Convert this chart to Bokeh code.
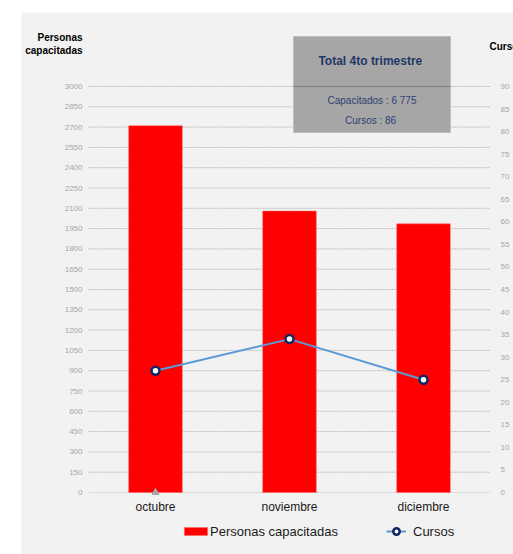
from bokeh.plotting import figure
from bokeh.models import Range1d, Label, Legend, LegendItem, Spacer, ColumnDataSource
from bokeh.layouts import column, row
from bokeh.embed import file_html
from bokeh.resources import INLINE

# ---- data ----
meses = ["octubre", "noviembre", "diciembre"]
personas = [2710, 2080, 1985]
cursos = [27, 34, 25]
left_ticks = list(range(0, 3001, 150))
right_ticks = list(range(0, 91, 5))

FONT = "Liberation Sans"
total_personas = sum(personas)
total_cursos = sum(cursos)
tot_txt = f"{total_personas:,}".replace(",", " ")

# ---- layout geometry (page pixels) ----
FIG_X, FIG_Y, FIG_W, FIG_H = 21, 12, 492, 542
PLOT_L, PLOT_R, Y0, Y3000 = 88, 490, 492, 86
ppu = (Y0 - Y3000) / 3000                   # pixels per person
ratio = 3000 / 90                           # persons per curso on the shared scale
cat_px = (PLOT_R - PLOT_L) / len(meses)


def dx(px):   # page x -> category-index coordinate
    return (px - PLOT_L) / cat_px


def dy(py):   # page y -> left-axis data value
    return (Y0 - py) / ppu


xs = [i + 0.5 for i in range(len(meses))]

p = figure(x_range=Range1d(dx(FIG_X), dx(FIG_X + FIG_W)),
           y_range=Range1d(dy(FIG_Y + FIG_H), dy(FIG_Y)),
           width=FIG_W, height=FIG_H, output_backend="svg", toolbar_location=None,
           x_axis_location=None, y_axis_location=None,
           min_border=0, min_border_left=0, min_border_right=0, min_border_top=0,
           min_border_bottom=0)
p.extra_y_ranges = {"cursos": Range1d(dy(FIG_Y + FIG_H) / ratio, dy(FIG_Y) / ratio)}
p.background_fill_color = "#F2F2F2"
p.border_fill_color = "#F2F2F2"
p.outline_line_color = None
p.xgrid.visible = False
p.ygrid.visible = False

# grid lines and base line
p.segment(x0=0, x1=len(meses), y0=left_ticks[1:], y1=left_ticks[1:], line_color="#BDBDBD",
          line_dash="2 1", line_width=1)
p.segment(x0=[0], x1=[len(meses)], y0=[0], y1=[0], line_color="#D9D9D9", line_width=1)

# tick labels (left: persons, right: cursos)
p.text(x=dx(82), y=left_ticks, text=[str(t) for t in left_ticks], text_align="right",
       text_baseline="middle", text_font={"value": FONT}, text_font_size="8px",
       text_color="#A6A6A6")
p.text(x=dx(500), y=right_ticks, text=[str(t) for t in right_ticks], y_range_name="cursos",
       text_align="left", text_baseline="middle", text_font={"value": FONT},
       text_font_size="8px", text_color="#A6A6A6")
p.text(x=xs, y=dy(506), text=meses, text_align="center", text_baseline="middle",
       text_font={"value": FONT}, text_font_size="12px", text_color="#1a1a1a")

bars = p.vbar(x=xs, top=personas, bottom=0, width=0.4, fill_color="#FF0000",
              line_color="#FF6666", line_width=0.5)
p.scatter(x=[xs[0]], y=[0], marker="triangle", size=7, fill_color="#A6A6A6",
          line_color="#A6A6A6")

ln = p.line(x=xs, y=cursos, y_range_name="cursos", line_color="#5B9BD5", line_width=2)
pts = p.scatter(x=xs, y=cursos, y_range_name="cursos", size=8, fill_color="white",
                line_color="#0F2660", line_width=2.5)

# summary box
bx_l, bx_r, bx_t, bx_b = dx(293), dx(450), dy(36), dy(132)
p.quad(left=[bx_l], right=[bx_r], top=[bx_t], bottom=[bx_b], fill_color="#A6A6A6",
       line_color="#BFBFBF", line_width=1)
p.segment(x0=[bx_l], x1=[bx_r], y0=[3000], y1=[3000], line_color="#555555", line_dash="1 1",
          line_width=1)
bx_c = (bx_l + bx_r) / 2
p.add_layout(Label(x=bx_c, y=dy(60), text="Total  4to trimestre", text_align="center",
                   text_baseline="middle", text_font=FONT, text_font_style="bold",
                   text_font_size="12px", text_color="#1F3864"))
p.add_layout(Label(x=bx_c, y=dy(100), text=f"Capacitados : {tot_txt}", text_align="center",
                   text_baseline="middle", text_font=FONT, text_font_size="10px",
                   text_color="#2F3F73"))
p.add_layout(Label(x=bx_c, y=dy(120), text=f"Cursos :  {total_cursos}", text_align="center",
                   text_baseline="middle", text_font=FONT, text_font_size="10px",
                   text_color="#2F3F73"))

# axis titles
for txt, py in (("Personas", 37), ("capacitadas", 50)):
    p.add_layout(Label(x=dx(82), y=dy(py), text=txt, text_align="right",
                       text_baseline="middle", text_font=FONT, text_font_style="bold",
                       text_font_size="10px", text_color="#000000"))
p.add_layout(Label(x=dx(489), y=dy(46), text="Cursos", text_align="left",
                   text_baseline="middle", text_font=FONT, text_font_style="bold",
                   text_font_size="10px", text_color="#000000"))


# legends (location in pixels from the frame's bottom-left corner)
def mk_legend(item, loc, gw, gh, standoff):
    return Legend(items=[item], location=loc, orientation="horizontal", glyph_width=gw,
                  glyph_height=gh, label_height=16, label_text_font=FONT,
                  label_text_font_size="13px", label_text_color="#1a1a1a", padding=0,
                  margin=0, spacing=0, border_line_color=None, background_fill_alpha=0,
                  label_standoff=standoff, label_text_baseline="middle")


leg_bottom = FIG_Y + FIG_H - 539
p.add_layout(mk_legend(LegendItem(label="Personas capacitadas", renderers=[bars]),
                       (181 - FIG_X, leg_bottom), 29, 10, 0))
p.add_layout(mk_legend(LegendItem(label="Cursos", renderers=[ln, pts]),
                       (386 - FIG_X, leg_bottom), 20, 16, 7))

layout = column(Spacer(height=FIG_Y), row(Spacer(width=FIG_X), p))
open("out.html", "w").write(file_html(layout, INLINE))
